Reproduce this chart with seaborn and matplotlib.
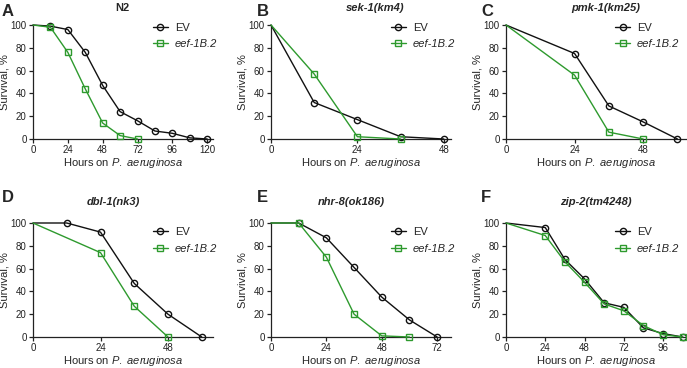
import matplotlib
matplotlib.use("Agg")
import matplotlib.pyplot as plt
import seaborn as sns
import pandas as pd
from matplotlib.lines import Line2D

sns.set_style("ticks")
plt.rcParams['font.family'] = ['Liberation Sans', 'DejaVu Sans']
plt.rcParams['mathtext.fontset'] = 'custom'
plt.rcParams['mathtext.rm'] = 'Liberation Sans'
plt.rcParams['mathtext.it'] = 'Liberation Sans:italic'
plt.rcParams['mathtext.bf'] = 'Liberation Sans:bold'

# ---- data ----
titles = ["N2", "sek-1(km4)", "pmk-1(km25)", "dbl-1(nk3)", "nhr-8(ok186)", "zip-2(tm4248)"]
letters = ["A", "B", "C", "D", "E", "F"]
series_names = ["EV", "eef-1B.2"]

a_ev_x = [0, 12, 24, 36, 48, 60, 72, 84, 96, 108, 120]
a_ev_y = [100, 99, 96, 76, 47, 24, 16, 7, 5, 1, 0]
a_kd_x = [0, 12, 24, 36, 48, 60, 72]
a_kd_y = [100, 98, 76, 44, 14, 3, 0]

b_ev_x = [0, 12, 24, 36, 48]
b_ev_y = [100, 32, 17, 2, 0]
b_kd_x = [0, 12, 24, 36]
b_kd_y = [100, 57, 2, 0]

c_ev_x = [0, 24, 36, 48, 60]
c_ev_y = [100, 75, 29, 15, 0]
c_kd_x = [0, 24, 36, 48]
c_kd_y = [100, 56, 6, 0]

d_ev_x = [0, 12, 24, 36, 48, 60]
d_ev_y = [100, 100, 92, 47, 20, 0]
d_kd_x = [0, 24, 36, 48]
d_kd_y = [100, 74, 27, 0]

e_ev_x = [0, 12, 24, 36, 48, 60, 72]
e_ev_y = [100, 100, 87, 61, 35, 15, 0]
e_kd_x = [0, 12, 24, 36, 48, 60]
e_kd_y = [100, 100, 70, 20, 1, 0]

f_ev_x = [0, 24, 36, 48, 60, 72, 84, 96, 108]
f_ev_y = [100, 96, 68, 51, 30, 26, 8, 3, 0]
f_kd_x = [0, 24, 36, 48, 60, 72, 84, 96, 108]
f_kd_y = [100, 89, 66, 48, 29, 23, 10, 2, 0]

panels = [
    (a_ev_x, a_ev_y, a_kd_x, a_kd_y, [0, 24, 48, 72, 96, 120], 124),
    (b_ev_x, b_ev_y, b_kd_x, b_kd_y, [0, 24, 48], 50),
    (c_ev_x, c_ev_y, c_kd_x, c_kd_y, [0, 24, 48], 63),
    (d_ev_x, d_ev_y, d_kd_x, d_kd_y, [0, 24, 48], 64),
    (e_ev_x, e_ev_y, e_kd_x, e_kd_y, [0, 24, 48, 72], 78),
    (f_ev_x, f_ev_y, f_kd_x, f_kd_y, [0, 24, 48, 72, 96], 110),
]

colors = ["#111111", "#2e9a2e"]
markers = ["o", "s"]

W, H = 687, 368
fig = plt.figure(figsize=(W / 100, H / 100), dpi=100)

lefts = [33, 271, 506]
tops = [25, 223]
aw, ah = 180, 114
letter_x = [2, 257, 481]
letter_y = [4, 190]
title_x = [122, 375, 606, 113, 351, 596]
title_y = [8, 202]
legend_y = [1.08, 1.02]
legend_x = [1.06, 1.06, 1.0]

for i, (evx, evy, kdx, kdy, ticks, xmax) in enumerate(panels):
    r, c = divmod(i, 3)
    left = lefts[c]
    top = tops[r]
    ax = fig.add_axes([left / W, 1 - (top + ah) / H, aw / W, ah / H])
    for j, (xs, ys) in enumerate([(evx, evy), (kdx, kdy)]):
        df = pd.DataFrame({"x": xs, "y": ys})
        sns.lineplot(data=df, x="x", y="y", ax=ax, color=colors[j], linewidth=1.0,
                     marker=markers[j], markersize=4.5, markerfacecolor="none",
                     markeredgecolor=colors[j], markeredgewidth=1.0,
                     markevery=list(range(1, len(xs))), clip_on=False, zorder=3 + j)
    ax.set_xlim(0, xmax)
    ax.set_ylim(0, 100)
    ax.set_xticks(ticks)
    ax.set_yticks([0, 20, 40, 60, 80, 100])
    ax.tick_params(labelsize=7, length=3, width=0.9, pad=1.5, colors="#222222")
    for s in ["top", "right"]:
        ax.spines[s].set_visible(False)
    for s in ["left", "bottom"]:
        ax.spines[s].set_linewidth(0.9)
        ax.spines[s].set_color("#222222")
    ax.set_xlabel(r"Hours on $\it{P.\ aeruginosa}$", fontsize=8, labelpad=0.5)
    ax.set_ylabel("Survival, %", fontsize=8, labelpad=1)
    style = "normal" if i == 0 else "italic"
    fig.text(title_x[i] / W, 1 - title_y[r] / H, titles[i], fontsize=8,
             fontweight="bold", fontstyle=style, ha="center", va="center")
    handles = [Line2D([], [], color=colors[k], marker=markers[k], markersize=4.5,
                      markerfacecolor="none", markeredgecolor=colors[k],
                      linewidth=1.0) for k in range(2)]
    leg = ax.legend(handles, series_names, loc="upper right",
                    bbox_to_anchor=(legend_x[c], legend_y[r]),
                    frameon=False, fontsize=8, handlelength=1.4, handletextpad=0.6,
                    labelspacing=0.6, borderaxespad=0.2)
    leg.get_texts()[1].set_fontstyle("italic")
    fig.text(letter_x[c] / W, 1 - letter_y[r] / H, letters[i],
             fontsize=12, fontweight="bold", va="top", ha="left")

fig.savefig("out.png", dpi=100)
